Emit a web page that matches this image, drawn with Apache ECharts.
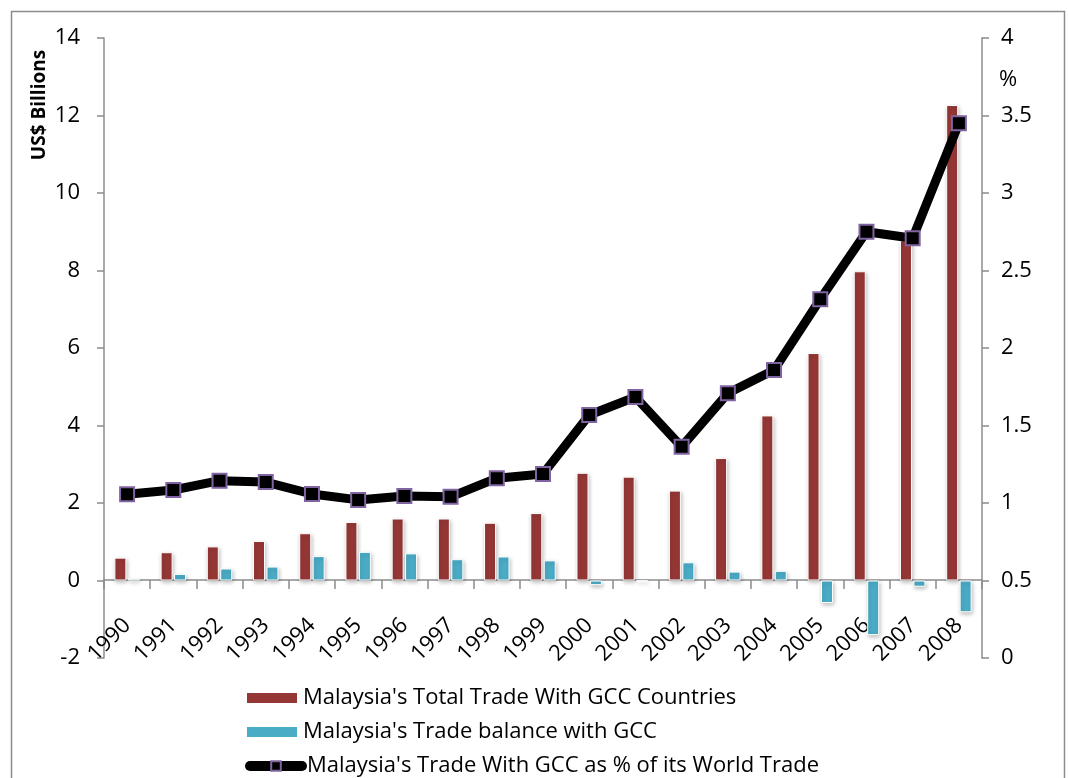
<!DOCTYPE html>
<html>
<head>
<meta charset="utf-8">
<script src="https://cdn.jsdelivr.net/npm/echarts@6/dist/echarts.min.js"></script>
<style>
  html, body { margin: 0; padding: 0; background: #fff; }
  #chart { width: 1068px; height: 778px; }
</style>
</head>
<body>
<div id="chart"></div>
<script>
  const years = ['1990', '1991', '1992', '1993', '1994', '1995', '1996', '1997', '1998', '1999',
    '2000', '2001', '2002', '2003', '2004', '2005', '2006', '2007', '2008'];
  // US$ billions
  const totalTrade = [0.59, 0.73, 0.88, 1.02, 1.22, 1.51, 1.6, 1.6, 1.49, 1.74,
    2.78, 2.68, 2.32, 3.16, 4.26, 5.87, 7.98, 8.78, 12.27];
  const tradeBalance = [0.05, 0.17, 0.31, 0.36, 0.63, 0.74, 0.7, 0.55, 0.62, 0.52,
    -0.12, -0.02, 0.47, 0.23, 0.25, -0.58, -1.41, -0.16, -0.82];
  // percent of world trade
  const sharePct = [1.056, 1.084, 1.144, 1.135, 1.058, 1.02, 1.045, 1.04, 1.16, 1.187,
    1.568, 1.684, 1.363, 1.708, 1.858, 2.314, 2.75, 2.708, 3.45];

  const names = [
    "Malaysia's Total Trade With GCC Countries",
    "Malaysia's Trade balance with GCC",
    "Malaysia's Trade With GCC as % of its World Trade"
  ];

  const font = 'Open Sans';
  const axisGrey = '#8c8c8c';
  const chart = echarts.init(document.getElementById('chart'));

  // one legend per row, so they stack like the original
  const legendOf = (item, top) => ({
    orient: 'horizontal',
    left: 240,
    top: top,
    itemWidth: 52,
    itemHeight: 12,
    itemGap: 6,
    textStyle: { fontSize: 22, color: '#000', fontFamily: font },
    data: [item]
  });

  chart.setOption({
    animation: false,
    textStyle: { fontFamily: font },
    grid: { left: 104, right: 86, top: 38, bottom: 120 },
    legend: [
      legendOf({ name: names[0], icon: 'rect' }, 682),
      legendOf({ name: names[1], icon: 'rect' }, 716),
      legendOf({
        name: names[2],
        itemStyle: { color: '#000', borderColor: '#8064A2', borderWidth: 2 },
        lineStyle: { color: '#000', width: 10, cap: 'round' }
      }, 750)
    ],
    xAxis: {
      type: 'category',
      data: years,
      offset: -78,
      axisLine: { onZero: false, lineStyle: { color: axisGrey, width: 1.5 } },
      axisTick: { show: true, length: 9, lineStyle: { color: axisGrey, width: 1.5 } },
      axisLabel: { rotate: 45, fontSize: 22, color: '#000', margin: 42, interval: 0 },
      splitLine: { show: false }
    },
    yAxis: [{
      type: 'value',
      min: -2,
      max: 14,
      interval: 2,
      axisLine: { show: true, lineStyle: { color: axisGrey, width: 1.5 } },
      axisTick: { show: true, length: 7, lineStyle: { color: axisGrey, width: 1.5 } },
      axisLabel: { fontSize: 22, color: '#000', margin: 24 },
      splitLine: { show: false }
    }, {
      type: 'value',
      min: 0,
      max: 4,
      interval: 0.5,
      position: 'right',
      axisLine: { show: true, lineStyle: { color: axisGrey, width: 1.5 } },
      axisTick: { show: true, length: 7, lineStyle: { color: axisGrey, width: 1.5 } },
      axisLabel: { fontSize: 22, color: '#000', margin: 19 },
      splitLine: { show: false }
    }],
    series: [{
      name: names[0],
      type: 'bar',
      yAxisIndex: 0,
      barWidth: 12,
      barGap: '12%',
      itemStyle: {
        color: '#953735',
        borderColor: '#fff',
        borderWidth: 1,
        shadowBlur: 4,
        shadowColor: 'rgba(0,0,0,0.25)',
        shadowOffsetX: 1,
        shadowOffsetY: 2
      },
      data: totalTrade
    }, {
      name: names[1],
      type: 'bar',
      yAxisIndex: 0,
      barWidth: 12,
      itemStyle: {
        color: '#4BACC6',
        borderColor: '#fff',
        borderWidth: 1,
        shadowBlur: 4,
        shadowColor: 'rgba(0,0,0,0.25)',
        shadowOffsetX: 1,
        shadowOffsetY: 2
      },
      data: tradeBalance
    }, {
      name: names[2],
      type: 'line',
      yAxisIndex: 1,
      symbol: 'rect',
      symbolSize: 14,
      lineStyle: { color: '#000', width: 9 },
      itemStyle: { color: '#000', borderColor: '#8064A2', borderWidth: 2 },
      z: 5,
      data: sharePct
    }],
    graphic: [{
      type: 'rect',
      left: 9,
      top: 9,
      shape: { width: 1053, height: 800 },
      style: { fill: 'none', stroke: axisGrey, lineWidth: 1.5 },
      silent: true
    }, {
      type: 'text',
      x: 40,
      y: 105,
      rotation: Math.PI / 2,
      style: {
        text: 'US$ Billions',
        font: 'bold 19px "' + font + '"',
        fill: '#000',
        align: 'center',
        verticalAlign: 'middle'
      }
    }, {
      type: 'text',
      x: 1008,
      y: 80,
      style: {
        text: '%',
        font: '22px "' + font + '"',
        fill: '#000',
        align: 'center',
        verticalAlign: 'middle'
      }
    }]
  });
</script>
</body>
</html>
